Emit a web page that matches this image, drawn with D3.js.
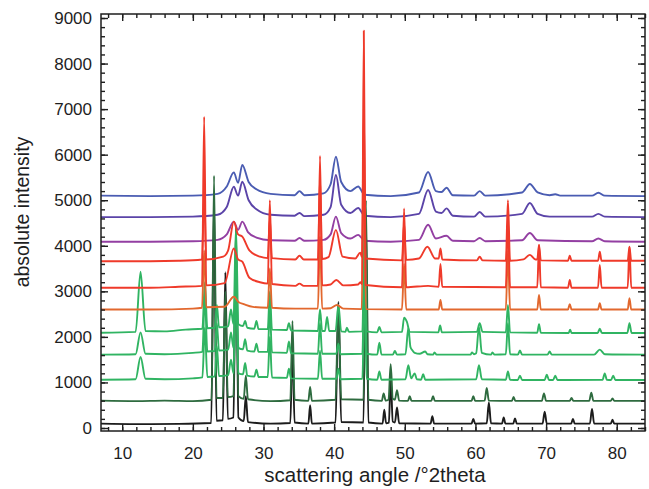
<!DOCTYPE html>
<html>
<head>
<meta charset="utf-8">
<script src="https://cdn.jsdelivr.net/npm/d3@7"></script>
<style>
  body { margin: 0; background: #fff; }
  svg { display: block; font-family: "Liberation Sans", Arial, Helvetica, sans-serif; }
</style>
</head>
<body>
<svg id="chart" width="649" height="489"></svg>
<script>
// Axis ticks
const angleTicks = [10, 20, 30, 40, 50, 60, 70, 80];
const angleMinorTicks = d3.range(8, 85, 2);
const intensityTicks = [0, 1000, 2000, 3000, 4000, 5000, 6000, 7000, 8000, 9000];
const intensityMinorTicks = d3.range(0, 9001, 200);

// Diffraction patterns, [angle °2θ, absolute intensity], bottom to top
const patternBlack = [[7,95],[12,85],[18,90],[22.6,110],[23.0,5000],[23.35,160],[24.25,170],[24.6,3420],[24.95,200],[25.75,230],[26.1,4400],[26.45,230],[27.2,150],[27.5,700],[27.8,130],[31,95],[33.8,110],[34.1,1840],[34.4,120],[36.35,95],[36.6,500],[36.85,95],[40.2,120],[40.6,2770],[41.0,130],[44.15,120],[44.5,4600],[44.85,120],[46.85,95],[47.1,400],[47.35,105],[47.75,120],[48.0,1100],[48.3,140],[48.6,120],[48.9,450],[49.2,105],[53.65,95],[53.9,260],[54.15,95],[59.45,95],[59.7,200],[59.95,95],[61.6,105],[61.9,560],[62.2,105],[63.75,95],[64.0,230],[64.25,95],[65.35,95],[65.6,210],[65.85,95],[69.5,95],[69.8,360],[70.1,95],[73.55,95],[73.8,200],[74.05,95],[76.2,95],[76.5,420],[76.8,95],[79.15,95],[79.4,180],[79.65,95],[84,95]];

const patternDarkGreen = [[7,600],[12,590],[16,600],[20,590],[22.65,620],[23.0,5540],[23.35,660],[24.25,660],[24.6,3000],[24.95,680],[25.75,700],[26.1,4000],[26.45,700],[27.2,640],[27.5,1150],[27.8,630],[31,590],[33.8,610],[34.1,2350],[34.4,620],[36.35,595],[36.6,900],[36.85,595],[40.2,620],[40.6,2700],[41.0,630],[44.15,620],[44.5,5000],[44.85,620],[46.75,595],[47.0,760],[47.3,600],[47.7,620],[48.0,1400],[48.3,640],[48.6,620],[48.9,830],[49.2,600],[50.45,595],[50.7,700],[50.95,595],[53.75,595],[54.0,700],[54.25,595],[59.45,595],[59.7,700],[59.95,595],[61.3,600],[61.6,880],[61.9,600],[65.15,595],[65.4,680],[65.65,595],[69.4,595],[69.7,760],[70.0,595],[73.35,595],[73.6,660],[73.85,595],[76.1,595],[76.4,775],[76.7,595],[79.15,595],[79.4,650],[79.65,595],[84,595]];

const patternGreen1 = [[7,1060],[11.9,1070],[12.6,1560],[13.3,1080],[16,1070],[20,1090],[21.35,1110],[21.7,2200],[22.05,1120],[23.1,1130],[23.4,1800],[23.7,1140],[25.0,1160],[25.4,1500],[25.75,1200],[26.1,3000],[26.45,1200],[27.1,1180],[27.4,1430],[27.7,1150],[28.7,1130],[29.0,1280],[29.3,1120],[30.6,1120],[30.9,2000],[31.2,1110],[33.3,1100],[33.6,1300],[33.9,1090],[37.7,1080],[38.0,1700],[38.3,1080],[40.3,1080],[40.6,1300],[40.9,1070],[44.0,1080],[44.3,3200],[44.6,1080],[46.1,1060],[46.4,1240],[46.7,1060],[50.1,1070],[50.5,1380],[50.9,1090],[51.4,1200],[51.7,1070],[52.3,1060],[52.6,1180],[52.9,1060],[60.1,1070],[60.5,1380],[60.9,1070],[64.3,1060],[64.6,1240],[64.9,1060],[66.0,1055],[66.3,1150],[66.6,1055],[69.8,1055],[70.1,1170],[70.4,1055],[71.0,1055],[71.3,1150],[71.6,1055],[78.0,1060],[78.3,1200],[78.6,1060],[79.2,1055],[79.5,1150],[79.8,1055],[84,1055]];

const patternGreen2 = [[7,1610],[11.9,1620],[12.6,2100],[13.3,1630],[16,1620],[20,1650],[21.35,1670],[21.7,2900],[22.05,1680],[23.1,1690],[23.4,2300],[23.7,1700],[25.0,1720],[25.4,2100],[25.75,1760],[26.1,3600],[26.45,1760],[27.1,1730],[27.4,1950],[27.7,1700],[28.7,1680],[29.0,1850],[29.3,1670],[30.6,1670],[30.9,2600],[31.2,1660],[33.3,1650],[33.6,1900],[33.9,1640],[37.7,1630],[38.0,2300],[38.3,1630],[40.3,1630],[40.6,1850],[40.9,1620],[44.0,1630],[44.3,3800],[44.6,1630],[46.1,1610],[46.4,1870],[46.7,1610],[48.3,1610],[48.6,1690],[48.9,1610],[50.1,1620],[50.5,2200],[50.8,1780],[51.1,1700],[51.4,1650],[52.1,1630],[52.9,1680],[53.2,1620],[54.0,1610],[54.2,1660],[54.5,1610],[59.3,1610],[59.5,1660],[59.8,1620],[60.1,1640],[60.5,2220],[60.9,1650],[62.2,1610],[62.4,1660],[62.7,1610],[64.3,1620],[64.6,2300],[64.9,1620],[66.0,1610],[66.3,1700],[66.6,1610],[70.2,1610],[70.5,1680],[70.8,1610],[76.8,1610],[77.6,1720],[78.3,1620],[84,1610]];

const patternGreen3 = [[7,2090],[11.9,2110],[12.6,3430],[13.3,2130],[16,2120],[19,2160],[21.35,2180],[21.7,3200],[22.05,2190],[23.1,2200],[23.4,2700],[23.7,2210],[25.0,2230],[25.4,2600],[25.75,2280],[26.1,4400],[26.45,2280],[27.1,2240],[27.4,2350],[27.7,2200],[28.7,2180],[29.0,2350],[29.3,2170],[30.6,2170],[30.9,3000],[31.2,2160],[33.3,2150],[33.6,2300],[33.9,2140],[37.7,2130],[38.0,2600],[38.3,2130],[38.7,2130],[39.0,2440],[39.3,2130],[40.2,2130],[40.6,2700],[41.0,2120],[41.6,2110],[41.8,2200],[42.1,2110],[44.0,2120],[44.3,4600],[44.6,2120],[46.1,2100],[46.4,2220],[46.7,2100],[49.6,2110],[49.9,2420],[50.3,2330],[50.7,2110],[54.75,2100],[55.0,2250],[55.25,2100],[60.2,2110],[60.6,2300],[61.0,2110],[64.3,2100],[64.6,2700],[64.9,2100],[68.75,2090],[69.0,2280],[69.25,2090],[73.2,2085],[73.4,2160],[73.6,2085],[77.3,2085],[77.6,2180],[77.9,2085],[81.5,2085],[81.8,2300],[82.1,2085],[84,2085]];

const patternOrange = [[7,2600],[14,2600],[20,2620],[21.3,2640],[21.6,3900],[21.9,2650],[24.5,2660],[25.8,2880],[26.5,2760],[27.2,2720],[28.5,2660],[30.6,2640],[30.9,3500],[31.2,2640],[34.5,2620],[37.7,2620],[38.0,4200],[38.3,2620],[39.5,2630],[40.4,2700],[41.3,2620],[43.9,2610],[44.2,6000],[44.5,2610],[49.6,2600],[49.9,3600],[50.2,2600],[54.8,2600],[55.05,2810],[55.3,2600],[64.3,2600],[64.6,3900],[64.9,2600],[68.75,2600],[69.0,2920],[69.25,2600],[73.1,2600],[73.35,2720],[73.6,2600],[77.35,2600],[77.6,2740],[77.85,2600],[81.55,2600],[81.8,2850],[82.05,2600],[84,2600]];

const patternRed1 = [[7,3080],[14,3080],[18,3100],[21.3,3120],[21.6,6830],[21.9,3130],[24.5,3180],[25.8,3940],[26.4,3700],[27.0,3650],[28,3300],[29.5,3200],[30.6,3170],[30.9,5000],[31.2,3160],[34.5,3120],[35.1,3170],[35.7,3120],[37.7,3120],[38.0,5970],[38.3,3130],[39.5,3150],[40.3,3250],[41.3,3130],[43.4,3150],[43.7,3200],[43.95,3160],[44.2,8720],[44.45,3140],[49.6,3090],[49.9,4820],[50.2,3090],[53.3,3120],[54.8,3100],[55.05,3600],[55.3,3100],[64.3,3090],[64.6,4600],[64.9,3090],[68.75,3090],[69.0,4017],[69.25,3090],[73.1,3080],[73.35,3250],[73.6,3080],[77.35,3080],[77.6,3580],[77.85,3080],[81.55,3080],[81.8,3980],[82.05,3080],[84,3080]];

const patternRed2 = [[7,3660],[14,3660],[18,3670],[21.3,3700],[21.6,5200],[21.9,3700],[24.3,3760],[25.0,3900],[25.8,4530],[26.4,4250],[27.0,4200],[28,3900],[29.5,3760],[30.6,3730],[30.9,4600],[31.2,3730],[34.5,3700],[35.1,3780],[35.7,3700],[37.7,3700],[38.0,5500],[38.3,3710],[39.2,3750],[40.25,4350],[41.2,3760],[43.0,3720],[43.7,3850],[43.95,3750],[44.2,7000],[44.45,3720],[49.6,3680],[49.9,4500],[50.2,3690],[52.0,3720],[53.2,3980],[54.3,3720],[54.8,3720],[55.05,3944],[55.3,3700],[60.2,3680],[60.6,3760],[61.0,3680],[64.3,3670],[64.6,5000],[64.9,3670],[66.8,3700],[67.7,3800],[68.5,3700],[68.75,3700],[69.0,4017],[69.25,3680],[73.1,3670],[73.35,3780],[73.6,3670],[77.35,3670],[77.6,3870],[77.85,3670],[81.55,3670],[81.8,3980],[82.05,3670],[84,3670]];

const patternPurple = [[7,4090],[14,4090],[20,4100],[23.5,4130],[24.8,4250],[25.8,4530],[26.4,4350],[27.0,4530],[27.8,4300],[29,4180],[31,4120],[34.4,4110],[35.1,4170],[35.8,4110],[38.5,4130],[39.5,4250],[40.25,4640],[41.0,4280],[42.3,4160],[43.4,4240],[44.3,4110],[48,4090],[52.0,4130],[53.3,4460],[54.4,4160],[55.9,4220],[56.8,4110],[59.8,4100],[60.6,4170],[61.4,4100],[66.6,4120],[67.7,4280],[68.8,4120],[76.5,4100],[77.4,4160],[78.3,4100],[84,4090]];

const patternViolet = [[7,4630],[14,4630],[20,4640],[23.5,4680],[24.8,4850],[25.8,5296],[26.4,5100],[27.0,5406],[27.9,5000],[29,4800],[31,4680],[34.4,4660],[35.1,4720],[35.8,4650],[38.5,4680],[39.5,4850],[40.25,5553],[41.0,4900],[42.3,4720],[43.4,4830],[44.3,4660],[48,4630],[52.0,4700],[53.3,5224],[54.4,4750],[55.2,4720],[55.9,4820],[56.8,4660],[59.8,4640],[60.6,4740],[61.4,4640],[66.6,4700],[67.7,4940],[68.8,4700],[70.5,4640],[76.5,4640],[77.4,4700],[78.3,4640],[84,4630]];

const patternBlue = [[7,5100],[14,5090],[20,5100],[23.5,5140],[24.8,5300],[25.8,5612],[26.4,5380],[27.0,5773],[27.9,5400],[29,5240],[31,5140],[34.4,5110],[35.1,5200],[35.8,5110],[38.5,5150],[39.5,5350],[40.25,5955],[41.0,5400],[42.3,5200],[43.4,5300],[44.3,5120],[48,5090],[52.0,5170],[53.3,5620],[54.4,5200],[55.2,5180],[55.9,5275],[56.8,5110],[59.8,5100],[60.6,5200],[61.4,5100],[66.6,5170],[67.7,5356],[68.8,5170],[70.5,5110],[71.3,5130],[72,5100],[76.5,5100],[77.4,5165],[78.3,5100],[84,5090]];

// Drawing order and colours
const patterns = [patternBlue, patternViolet, patternPurple, patternBlack, patternDarkGreen,
                  patternGreen1, patternGreen2, patternGreen3, patternOrange, patternRed2, patternRed1];
const patternColors = ["#4a5cb2", "#5b44a8", "#933fa2", "#1c1c1c", "#2e6b3f",
                       "#30b462", "#30b462", "#30b462", "#e2682e", "#ef3a2a", "#ef3a2a"];

const svg = d3.select("#chart");
const plot = { left: 101, right: 645, top: 14, bottom: 431 };

const x = d3.scaleLinear().domain([7, 84]).range([plot.left, plot.right]);
const y = d3.scaleLinear().domain([-66, 9088]).range([plot.bottom, plot.top]);

svg.append("defs").append("clipPath").attr("id", "plot-clip")
  .append("rect")
  .attr("x", plot.left).attr("y", plot.top)
  .attr("width", plot.right - plot.left).attr("height", plot.bottom - plot.top);

const line = d3.line()
  .x(d => x(d[0]))
  .y(d => y(d[1]))
  .curve(d3.curveMonotoneX);

const traces = svg.append("g").attr("clip-path", "url(#plot-clip)");
patterns.forEach((p, i) => {
  traces.append("path")
    .datum(p)
    .attr("d", line)
    .attr("fill", "none")
    .attr("stroke", patternColors[i])
    .attr("stroke-width", 1.9)
    .attr("stroke-linejoin", "round");
});

// Axes: ticks point inward on all four sides
const axisColor = "#1e1e1e";
const major = 7, minor = 4;

function styleAxis(g) {
  g.select(".domain").remove();
  g.selectAll(".tick line").attr("stroke", axisColor).attr("stroke-width", 1.4);
  g.selectAll(".tick text").attr("fill", axisColor)
    .style("font-size", "17px");
}

// bottom
svg.append("g").attr("transform", `translate(0,${plot.bottom})`)
  .call(d3.axisBottom(x).tickValues(angleMinorTicks).tickSize(-minor).tickFormat(""))
  .call(styleAxis);
svg.append("g").attr("transform", `translate(0,${plot.bottom})`)
  .call(d3.axisBottom(x).tickValues(angleTicks).tickSize(-major).tickPadding(major + 9).tickFormat(d3.format("d")))
  .call(styleAxis);
// top
svg.append("g").attr("transform", `translate(0,${plot.top})`)
  .call(d3.axisTop(x).tickValues(angleMinorTicks).tickSize(-minor).tickFormat(""))
  .call(styleAxis);
svg.append("g").attr("transform", `translate(0,${plot.top})`)
  .call(d3.axisTop(x).tickValues(angleTicks).tickSize(-major).tickFormat(""))
  .call(styleAxis);
// left
svg.append("g").attr("transform", `translate(${plot.left},0)`)
  .call(d3.axisLeft(y).tickValues(intensityMinorTicks).tickSize(-minor).tickFormat(""))
  .call(styleAxis);
svg.append("g").attr("transform", `translate(${plot.left},0)`)
  .call(d3.axisLeft(y).tickValues(intensityTicks).tickSize(-major).tickPadding(major + 2).tickFormat(d3.format("d")))
  .call(styleAxis);
// right
svg.append("g").attr("transform", `translate(${plot.right},0)`)
  .call(d3.axisRight(y).tickValues(intensityMinorTicks).tickSize(-minor).tickFormat(""))
  .call(styleAxis);
svg.append("g").attr("transform", `translate(${plot.right},0)`)
  .call(d3.axisRight(y).tickValues(intensityTicks).tickSize(-major).tickFormat(""))
  .call(styleAxis);

// frame
svg.append("rect")
  .attr("x", plot.left).attr("y", plot.top)
  .attr("width", plot.right - plot.left).attr("height", plot.bottom - plot.top)
  .attr("fill", "none").attr("stroke", axisColor).attr("stroke-width", 1.5);

// axis titles
svg.append("text")
  .attr("x", (plot.left + plot.right) / 2 + 2).attr("y", 482)
  .attr("text-anchor", "middle")
  .attr("fill", axisColor)
  .style("font-size", "20.5px")
  .text("scattering angle /°2theta");

svg.append("text")
  .attr("transform", `translate(29,212) rotate(-90)`)
  .attr("text-anchor", "middle")
  .attr("fill", axisColor)
  .style("font-size", "19.5px")
  .text("absolute intensity");
</script>
</body>
</html>
